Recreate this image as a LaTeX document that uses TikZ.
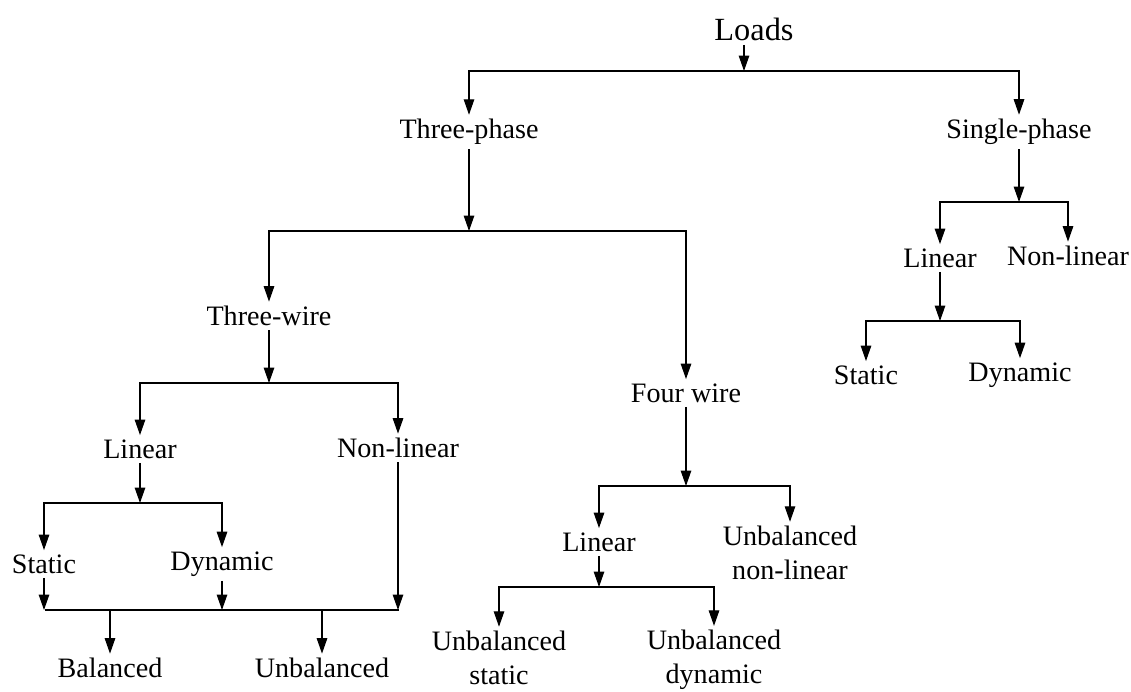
\documentclass[tikz,border=0pt]{standalone}
\usepackage{fontspec}
\setmainfont{Liberation Serif}
\usetikzlibrary{arrows.meta, calc}
\newcommand{\LabelFont}{\fontsize{20pt}{24pt}\selectfont}
\newcommand{\RootFont}{\fontsize{23pt}{27pt}\selectfont}

\begin{document}
\begin{tikzpicture}[x=0.025cm, y=-0.025cm,
    txt/.style={font=\LabelFont, inner sep=3pt, align=center},
    arr/.style={line width=0.8pt, -{Triangle[length=11pt, width=7.5pt]}},
    bar/.style={line width=0.8pt}]
  \useasboundingbox (0,0) rectangle (1131,691);
  % loads
  \node[txt, font=\RootFont] (loads) at (754,29) {Loads};
  \node[txt] (threephase) at (469,132) {Three-phase};
  \node[txt] (singlephase) at (1019,132) {Single-phase};
  \coordinate (j1) at (744,71);
  \draw[arr] (loads.south -| j1) -- (j1);
  \draw[arr] (j1) -| (threephase);
  \draw[arr] (j1) -| (singlephase);
  % three-phase
  \node[txt] (threewire) at (269,316) {Three-wire};
  \node[txt] (fourwire) at (686,393) {Four wire};
  \coordinate (j2) at (469,231);
  \draw[arr] (threephase) -- (j2);
  \draw[arr] (j2) -| (threewire);
  \draw[arr] (j2) -| (fourwire);
  % three-wire
  \node[txt] (lin3) at (140,449) {Linear};
  \node[txt] (nonlin3) at (398,448) {Non-linear};
  \coordinate (j3) at (269,383);
  \draw[arr] (threewire) -- (j3);
  \draw[arr] (j3) -| (lin3);
  \draw[arr] (j3) -| (nonlin3);
  \node[txt] (static3) at (44,564) {Static};
  \node[txt] (dynamic3) at (222,564) {Dynamic};
  \coordinate (j4) at (140,503);
  \draw[arr] (lin3) -- (j4);
  \draw[arr] (j4) -| (static3);
  \draw[arr] (j4) -| (dynamic3);
  % balanced / unbalanced
  \node[txt] (balanced) at (110,668) {Balanced};
  \node[txt] (unbalanced) at (322,668) {Unbalanced};
  \coordinate (m1) at (45,610);
  \coordinate (m2) at (399,610);
  \draw[arr] (static3) -- (static3 |- m1);
  \draw[arr] (dynamic3) -- (dynamic3 |- m1);
  \draw[arr] (nonlin3) -- (nonlin3 |- m1);
  \draw[bar] (m1) -- (m2);
  \draw[arr] (balanced |- m1) -- (balanced);
  \draw[arr] (unbalanced |- m1) -- (unbalanced);
  % four wire
  \node[txt] (lin4) at (599,542) {Linear};
  \node[txt] (unbalnl) at (790,553) {Unbalanced\\non-linear};
  \coordinate (j5) at (686,486);
  \draw[arr] (fourwire) -- (j5);
  \draw[arr] (j5) -| (lin4);
  \draw[arr] (j5) -| (unbalnl);
  \node[txt] (unbalst) at (499,658) {Unbalanced\\static};
  \node[txt] (unbaldyn) at (714,660) {Unbalanced\\dynamic};
  \coordinate (j6) at (599,587);
  \draw[arr] (lin4) -- (j6);
  \draw[arr] (j6) -| (unbalst);
  \draw[arr] (j6) -| (unbaldyn);
  % single-phase
  \node[txt] (lin1) at (940,258) {Linear};
  \node[txt] (nonlin1) at (1068,256) {Non-linear};
  \coordinate (j7) at (1019,202);
  \draw[arr] (singlephase) -- (j7);
  \draw[arr] (j7) -| (lin1);
  \draw[arr] (j7) -| (nonlin1);
  \node[txt] (static1) at (866,375) {Static};
  \node[txt] (dynamic1) at (1020,375) {Dynamic};
  \coordinate (j8) at (940,321);
  \draw[arr] (lin1) -- (j8);
  \draw[arr] (j8) -| (static1);
  \draw[arr] (j8) -| (dynamic1);
\end{tikzpicture}
\end{document}
